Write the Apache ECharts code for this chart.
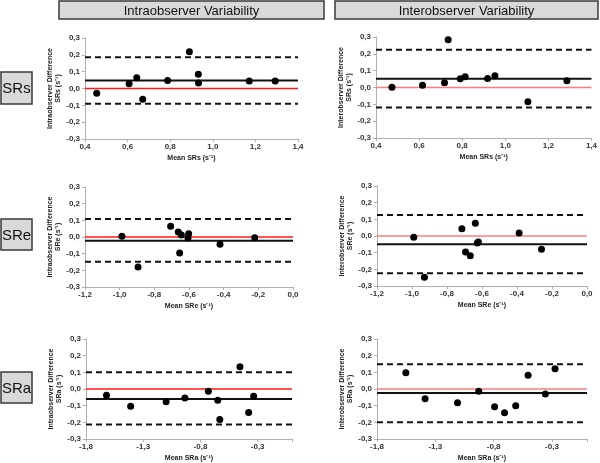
<!DOCTYPE html>
<html>
<head>
<meta charset="utf-8">
<script src="https://cdn.jsdelivr.net/npm/echarts@6/dist/echarts.min.js"></script>
<style>
html,body{margin:0;padding:0;background:#fff;}
#chart{width:600px;height:463px;}
</style>
</head>
<body>
<div id="chart"></div>
<script>
// ---- Data ----
const columnTitles = ['Intraobserver Variability', 'Interobserver Variability'];
const rowLabels = ['SRs', 'SRe', 'SRa'];
const yTickValues = [-0.3, -0.2, -0.1, 0.0, 0.1, 0.2, 0.3];

// SRs
const intraSRsX = [0.455, 0.607, 0.643, 0.671, 0.788, 0.890, 0.932, 0.933, 1.171, 1.293];
const intraSRsY = [-0.028, 0.028, 0.064, -0.064, 0.048, 0.218, 0.084, 0.032, 0.044, 0.044];
const intraSRsLimits = [0.186, 0.048, -0.090]; // upper, mean, lower
const interSRsX = [0.474, 0.616, 0.718, 0.735, 0.791, 0.814, 0.918, 0.952, 1.105, 1.286];
const interSRsY = [0.002, 0.014, 0.028, 0.284, 0.052, 0.064, 0.054, 0.070, -0.085, 0.040];
const interSRsLimits = [0.225, 0.052, -0.119];

// SRe
const intraSReX = [-0.987, -0.894, -0.706, -0.662, -0.644, -0.654, -0.606, -0.602, -0.421, -0.221];
const intraSReY = [0.004, -0.180, 0.064, 0.030, 0.012, -0.096, -0.006, 0.020, -0.044, -0.004];
const intraSReLimits = [0.108, -0.022, -0.148];
const interSReX = [-0.990, -0.929, -0.715, -0.694, -0.667, -0.638, -0.621, -0.627, -0.388, -0.260];
const interSReY = [-0.008, -0.248, 0.044, -0.096, -0.118, 0.076, -0.036, -0.042, 0.018, -0.080];
const interSReLimits = [0.126, -0.050, -0.224];

// SRa
const intraSRaX = [-1.621, -1.410, -1.100, -0.936, -0.731, -0.649, -0.631, -0.455, -0.379, -0.335];
const intraSRaY = [-0.038, -0.103, -0.076, -0.054, -0.014, -0.068, -0.183, 0.133, -0.141, -0.044];
const intraSRaLimits = [0.101, -0.060, -0.213];
const interSRaX = [-1.553, -1.388, -1.110, -0.928, -0.792, -0.707, -0.611, -0.505, -0.357, -0.274];
const interSRaY = [0.098, -0.058, -0.082, -0.014, -0.106, -0.142, -0.100, 0.082, -0.030, 0.122];
const interSRaLimits = [0.148, -0.024, -0.200];

// x-axis ranges [min, max, interval]
const xRangeSRs = [0.4, 1.4, 0.2];
const xRangeSRe = [-1.2, 0.0, 0.2];
const xRangeSRa = [-1.8, 0.0, 0.5];

// ---- Build ----
const chart = echarts.init(document.getElementById('chart'));

const fmt = v => v.toFixed(1).replace('.', ',');

const panels = [
  {x: intraSRsX, y: intraSRsY, lim: intraSRsLimits, range: xRangeSRs, col: 0, row: 0},
  {x: interSRsX, y: interSRsY, lim: interSRsLimits, range: xRangeSRs, col: 1, row: 0},
  {x: intraSReX, y: intraSReY, lim: intraSReLimits, range: xRangeSRe, col: 0, row: 1},
  {x: interSReX, y: interSReY, lim: interSReLimits, range: xRangeSRe, col: 1, row: 1},
  {x: intraSRaX, y: intraSRaY, lim: intraSRaLimits, range: xRangeSRa, col: 0, row: 2},
  {x: interSRaX, y: interSRaY, lim: interSRaLimits, range: xRangeSRa, col: 1, row: 2}
];

const gridRects = [
  {left: 85, top: 38, width: 213, height: 101},
  {left: 376, top: 37, width: 216, height: 101},
  {left: 85, top: 187, width: 208, height: 100},
  {left: 377, top: 186, width: 210, height: 100},
  {left: 86, top: 339, width: 206, height: 101},
  {left: 377, top: 339, width: 210, height: 100}
];

const axisColor = '#b0b0b0';
const labelStyle = {fontFamily: 'Liberation Sans, Arial, sans-serif', fontSize: 8, fontWeight: 'bold', color: '#333'};
const nameStyle = {fontFamily: 'Liberation Sans, Arial, sans-serif', fontSize: 7, fontWeight: 'bold', color: '#222', lineHeight: 8};

const grids = [], xAxes = [], yAxes = [], series = [];
panels.forEach((p, i) => {
  grids.push(Object.assign({containLabel: false}, gridRects[i]));
  const [xmin, xmax, xint] = p.range;
  const obs = p.col === 0 ? 'Intraobserver' : 'Interobserver';
  const rl = rowLabels[p.row];
  xAxes.push({
    type: 'value', gridIndex: i, min: xmin, max: xmax, interval: xint,
    name: 'Mean ' + rl + ' (s\u207B\u00B9)', nameLocation: 'middle', nameGap: 15,
    nameTextStyle: nameStyle,
    axisLine: {onZero: false, lineStyle: {color: axisColor, width: 1}},
    axisTick: {show: true, length: 3, lineStyle: {color: axisColor}},
    splitLine: {show: false},
    axisLabel: Object.assign({margin: 4, formatter: v => {
      const k = (v - xmin) / xint;
      if (Math.abs(k - Math.round(k)) > 1e-6) return '';
      return fmt(v);
    }}, labelStyle)
  });
  yAxes.push({
    type: 'value', gridIndex: i, min: -0.3, max: 0.3, interval: 0.1,
    name: obs + ' Difference\n' + rl + ' (s\u207B\u00B9)', nameLocation: 'middle', nameGap: 20,
    nameRotate: 90, nameTextStyle: nameStyle,
    axisLine: {show: true, onZero: false, lineStyle: {color: axisColor, width: 1}},
    axisTick: {show: true, length: 3, lineStyle: {color: axisColor}},
    splitLine: {show: false},
    axisLabel: Object.assign({margin: 5, formatter: v => fmt(v)}, labelStyle)
  });
  const hline = (val, style, z) => ({
    type: 'line', xAxisIndex: i, yAxisIndex: i, silent: true, symbol: 'none', z: z,
    data: [[xmin, val], [xmax, val]], lineStyle: style, animation: false
  });
  series.push(hline(0, {color: p.col === 0 ? '#ff1a1a' : '#ff7b7b', width: 1.6}, 1));
  series.push(hline(p.lim[1], {color: '#111', width: 2}, 2));
  series.push(hline(p.lim[0], {color: '#111', width: 2, type: [6, 4]}, 2));
  series.push(hline(p.lim[2], {color: '#111', width: 2, type: [6, 4]}, 2));
  series.push({
    type: 'scatter', xAxisIndex: i, yAxisIndex: i, symbol: 'circle', symbolSize: 7, z: 5,
    itemStyle: {color: '#000', opacity: 1}, animation: false,
    data: p.x.map((xv, k) => [xv, p.y[k]])
  });
});

const boxStyle = {fill: '#d9d9d9', stroke: '#3a3a3a', lineWidth: 1.5};
const boxText = (x, y, w, h, text, size) => ({
  type: 'group', children: [
    {type: 'rect', shape: {x: x, y: y, width: w, height: h}, style: boxStyle},
    {type: 'text', x: x + w / 2, y: y + h / 2 + 1, style: {text: text, fill: '#111', fontSize: size,
      fontFamily: 'Liberation Sans, Arial, sans-serif', textAlign: 'center', textVerticalAlign: 'middle'}}
  ]
});

const graphics = [
  boxText(59, 1, 265, 18, columnTitles[0], 13),
  boxText(335, 1, 263, 18, columnTitles[1], 13),
  boxText(1, 72, 31, 32, rowLabels[0], 15),
  boxText(1, 219, 31, 31, rowLabels[1], 15),
  boxText(1, 372, 31, 31, rowLabels[2], 15)
];

chart.setOption({
  animation: false,
  backgroundColor: '#fff',
  grid: grids, xAxis: xAxes, yAxis: yAxes, series: series,
  graphic: graphics
});
</script>
</body>
</html>
